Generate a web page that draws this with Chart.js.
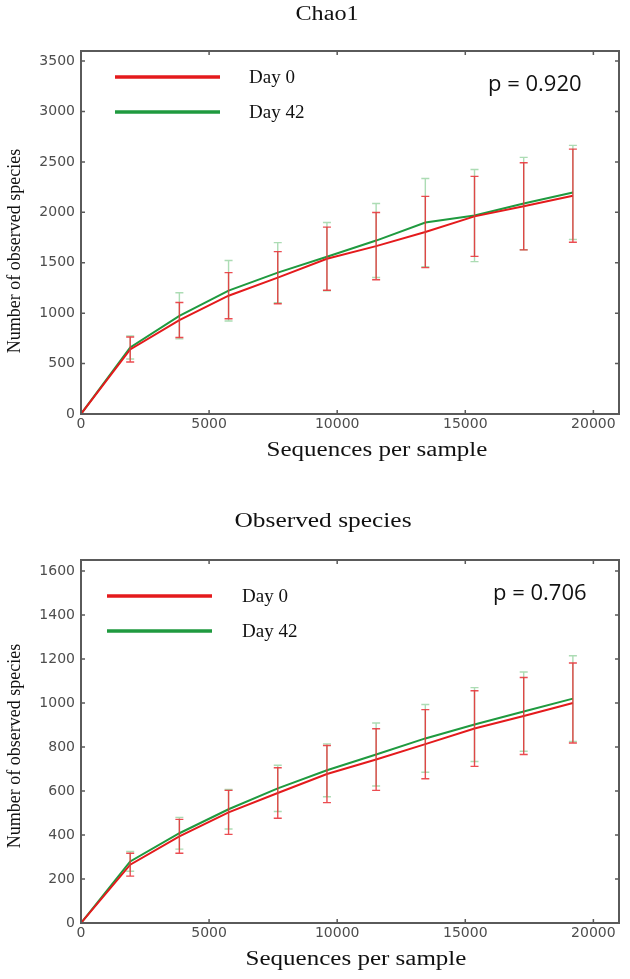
<!DOCTYPE html>
<html>
<head>
<meta charset="utf-8">
<script src="https://cdn.jsdelivr.net/npm/chart.js@4.4.1/dist/chart.umd.min.js"></script>
<style>
  html, body { margin: 0; padding: 0; background: #fff; }
  #wrap { position: relative; width: 630px; height: 979px; }
  .box { position: absolute; left: 0; width: 630px; }
</style>
</head>
<body>
<div id="wrap">
  <div class="box" style="top:0;height:480px"><canvas id="chao"></canvas></div>
  <div class="box" style="top:480px;height:499px"><canvas id="obs"></canvas></div>
</div>
<script>
// rarefaction depths (sequences per sample)
const depth = [0, 1920, 3840, 5760, 7680, 9600, 11520, 13440, 15360, 17280, 19200];
const xTicks = [0, 5000, 10000, 15000, 20000];

// Chao1
const chaoDay0   = [0, 640, 932, 1173, 1352, 1540, 1665, 1805, 1960, 2060, 2165];
const chaoDay0Sd = [0, 124, 174, 229, 258, 313, 333, 353, 397, 432, 462];
const chaoDay42   = [0, 660, 974, 1223, 1402, 1560, 1720, 1899, 1968, 2087, 2197];
const chaoDay42Sd = [0, 115, 229, 300, 298, 339, 367, 437, 457, 458, 467];
const chaoTicks = [0, 500, 1000, 1500, 2000, 2500, 3000, 3500];

// Observed species
const obsDay0   = [0, 265, 394, 503, 591, 677, 743, 813, 884, 941, 1000];
const obsDay0Sd = [0, 52, 77, 100, 115, 130, 140, 157, 172, 175, 182];
const obsDay42   = [0, 280, 408, 517, 612, 694, 766, 839, 902, 961, 1020];
const obsDay42Sd = [0, 45, 72, 90, 105, 120, 143, 154, 168, 180, 195];
const obsTicks = [0, 200, 400, 600, 800, 1000, 1200, 1400, 1600];

const RED = '#e41a1c', GREEN = '#1f9a3f';
const serif = '"Liberation Serif", "Times New Roman", serif';

function pts(ys) { return depth.map((x, i) => ({x: x, y: ys[i]})); }

function txt(ctx, s, x, y, font, sx, align) {
  ctx.save();
  ctx.translate(x, y);
  ctx.scale(sx, 1);
  ctx.font = font;
  ctx.textAlign = align;
  ctx.textBaseline = 'alphabetic';
  ctx.fillStyle = '#111';
  ctx.fillText(s, 0, 0);
  ctx.restore();
}

// error bars, frame with inward ticks, titles, legend and p value
const rarePlugin = {
  id: 'rare',
  afterDatasetsDraw(chart, args, o) {
    const {ctx, scales: {x, y}} = chart;
    o.err.forEach(e => {
      ctx.save();
      ctx.strokeStyle = e.color;
      ctx.lineWidth = 1.4;
      e.mean.forEach((m, i) => {
        if (!e.sd[i]) return;
        const px = x.getPixelForValue(depth[i]);
        const t = y.getPixelForValue(m + e.sd[i]);
        const b = y.getPixelForValue(m - e.sd[i]);
        ctx.beginPath();
        ctx.moveTo(px, t); ctx.lineTo(px, b);
        ctx.moveTo(px - 4, t); ctx.lineTo(px + 4, t);
        ctx.moveTo(px - 4, b); ctx.lineTo(px + 4, b);
        ctx.stroke();
      });
      ctx.restore();
    });
  },
  afterDraw(chart, args, o) {
    const {ctx, chartArea: a, scales: {x, y}} = chart;
    ctx.save();
    ctx.strokeStyle = '#5a5a5a';
    ctx.lineWidth = 2;
    ctx.strokeRect(a.left, a.top, a.right - a.left, a.bottom - a.top);
    ctx.lineWidth = 1.5;
    ctx.beginPath();
    x.ticks.forEach(t => {
      const px = x.getPixelForValue(t.value);
      if (px <= a.left + 1) return;
      ctx.moveTo(px, a.bottom); ctx.lineTo(px, a.bottom - 4);
      ctx.moveTo(px, a.top); ctx.lineTo(px, a.top + 4);
    });
    y.ticks.forEach(t => {
      const py = y.getPixelForValue(t.value);
      if (py >= a.bottom - 1) return;
      ctx.moveTo(a.left, py); ctx.lineTo(a.left + 4, py);
      ctx.moveTo(a.right, py); ctx.lineTo(a.right - 4, py);
    });
    ctx.stroke();
    ctx.restore();

    txt(ctx, o.title.text, o.title.x, o.title.y, '20px ' + serif, o.title.sx, 'center');
    txt(ctx, 'Sequences per sample', o.xTitle.x, o.xTitle.y, '20px ' + serif, 1.25, 'center');

    ctx.save();
    ctx.translate(o.yTitle.x, o.yTitle.y);
    ctx.rotate(-Math.PI / 2);
    ctx.font = '18px ' + serif;
    ctx.textAlign = 'center';
    ctx.textBaseline = 'middle';
    ctx.fillStyle = '#111';
    ctx.fillText('Number of observed species', 0, 0);
    ctx.restore();

    const L = o.legend;
    ['Day 0', 'Day 42'].forEach((lab, i) => {
      ctx.save();
      ctx.strokeStyle = i ? GREEN : RED;
      ctx.lineWidth = 3.5;
      ctx.beginPath();
      ctx.moveTo(L.x0, L.rows[i]); ctx.lineTo(L.x1, L.rows[i]);
      ctx.stroke();
      ctx.restore();
      txt(ctx, lab, L.tx, L.rows[i] + 6, '19px ' + serif, 1, 'left');
    });

    txt(ctx, o.p.text, o.p.x, o.p.y, '22px "Open Sans", sans-serif', 1, 'left');
  }
};

function makeChart(id, d0, d42, sd0, sd42, yMax, yTicks, padTop, xH, opts) {
  return new Chart(document.getElementById(id), {
    type: 'line',
    data: {
      datasets: [
        {label: 'Day 0', data: pts(d0), borderColor: RED, borderWidth: 2, pointRadius: 0, tension: 0},
        {label: 'Day 42', data: pts(d42), borderColor: GREEN, borderWidth: 2, pointRadius: 0, tension: 0}
      ]
    },
    options: {
      responsive: true,
      maintainAspectRatio: false,
      animation: false,
      layout: {padding: {top: padTop, right: 11, left: 0, bottom: 0}},
      plugins: {
        legend: {display: false},
        tooltip: {enabled: false},
        rare: Object.assign({
          err: [
            {mean: d42, sd: sd42, color: 'rgba(90,185,105,0.5)'},
            {mean: d0, sd: sd0, color: 'rgba(232,45,50,0.85)'}
          ]
        }, opts)
      },
      scales: {
        x: {
          type: 'linear', min: 0, max: 21000,
          grid: {display: false, drawTicks: false},
          border: {display: false},
          afterBuildTicks: s => { s.ticks = xTicks.map(v => ({value: v})); },
          afterFit: s => { s.height = xH; },
          ticks: {padding: 2, color: '#4d4d4d', font: {family: '"DejaVu Sans"', size: 14},
                  maxRotation: 0, callback: v => String(v)}
        },
        y: {
          type: 'linear', min: 0, max: yMax,
          grid: {display: false, drawTicks: false},
          border: {display: false},
          afterBuildTicks: s => { s.ticks = yTicks.map(v => ({value: v})); },
          afterFit: s => { s.width = 81; },
          ticks: {padding: 6, color: '#4d4d4d', font: {family: '"DejaVu Sans"', size: 14},
                  callback: v => String(v)}
        }
      }
    },
    plugins: [rarePlugin]
  });
}

makeChart('chao', chaoDay0, chaoDay42, chaoDay0Sd, chaoDay42Sd, 3600, chaoTicks, 51, 66, {
  title: {text: 'Chao1', x: 327, y: 20, sx: 1.21},
  xTitle: {x: 377, y: 456},
  yTitle: {x: 15, y: 251},
  legend: {x0: 115, x1: 220, tx: 249, rows: [77, 112]},
  p: {text: 'p = 0.920', x: 488, y: 91}
});

makeChart('obs', obsDay0, obsDay42, obsDay0Sd, obsDay42Sd, 1650, obsTicks, 80, 56, {
  title: {text: 'Observed species', x: 323, y: 47, sx: 1.27},
  xTitle: {x: 356, y: 485},
  yTitle: {x: 15, y: 266},
  legend: {x0: 107, x1: 212, tx: 242, rows: [116, 151]},
  p: {text: 'p = 0.706', x: 493, y: 120}
});
</script>
</body>
</html>
